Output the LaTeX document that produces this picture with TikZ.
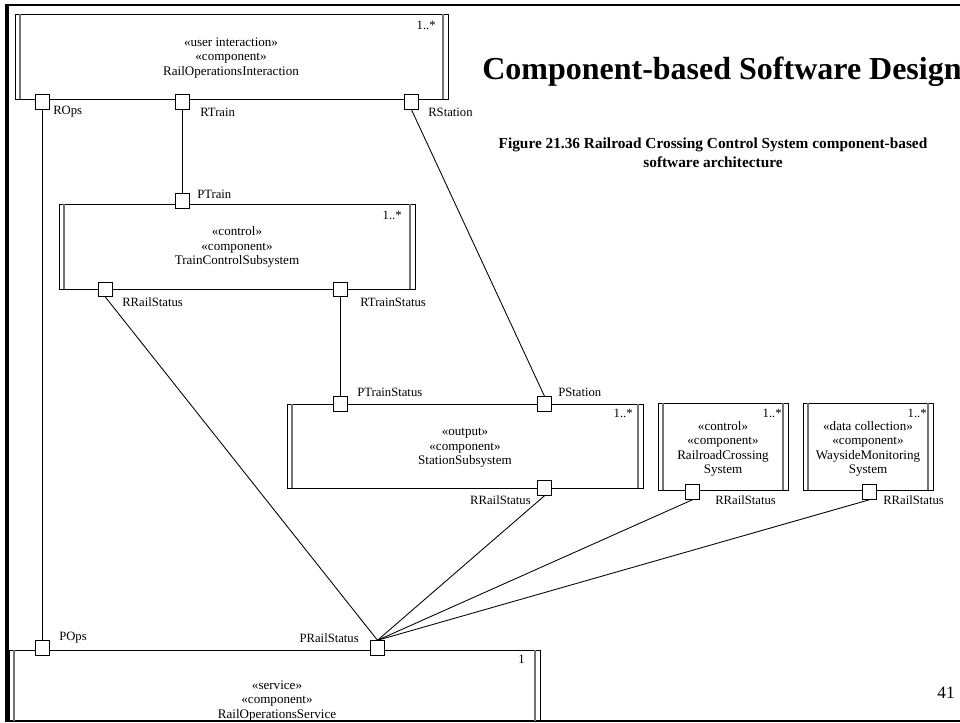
\documentclass[tikz,border=0pt]{standalone}
\usepackage{fontspec}
\setmainfont{Liberation Serif}
\usetikzlibrary{fit}
\begin{document}
\begin{tikzpicture}[x=0.75pt,y=-0.75pt,
  comp/.style={draw=black, line width=0.7pt, inner sep=0pt, outer sep=0pt},
  bar/.style={draw=black!55, line width=1.2pt},
  port/.style={draw=black, fill=white, line width=0.6pt, minimum size=11pt, inner sep=0pt},
  wire/.style={draw=black, line width=0.65pt},
  stereo/.style={align=center, inner sep=0pt, font=\fontsize{9.8}{10.8}\selectfont},
  mult/.style={anchor=east, inner sep=0pt, font=\fontsize{9.5}{11}\selectfont},
  lbl/.style={inner sep=0pt, font=\fontsize{9.5}{11}\selectfont},
]
\useasboundingbox (0,0) rectangle (960,723);

% component box with the double side bars
\newcommand\compbox[3]{%
  \node[comp, fit={#2 #3}] (#1) {};
  \draw[bar] ([xshift=3.9pt]#1.north west) -- ([xshift=3.9pt]#1.south west);
  \draw[bar] ([xshift=-3.9pt]#1.north east) -- ([xshift=-3.9pt]#1.south east);
}

% slide frame
\draw[line width=2pt] (5,5) -- (960,5);
\draw[line width=2.4pt] (7,4) -- (7,722);
\draw[line width=1.6pt] (5,721) -- (960,721);

% components
\compbox{roi}{(15,14)}{(448,99)}
\compbox{tcs}{(59,204)}{(415,289)}
\compbox{sts}{(287,404)}{(643,488)}
\compbox{rcs}{(658,403)}{(788,490)}
\compbox{wms}{(803,403)}{(933,490)}
\compbox{ros}{(9,650)}{(540,721)}

\node[stereo] (roiT) at (231,58) {«user interaction»\\«component»\\RailOperationsInteraction};
\node[stereo] (tcsT) at (237,247) {«control»\\«component»\\TrainControlSubsystem};
\node[stereo] (stsT) at (465,448) {«output»\\«component»\\StationSubsystem};
\node[stereo] (rcsT) at (723,449) {«control»\\«component»\\RailroadCrossing\\System};
\node[stereo] (wmsT) at (868,449) {«data collection»\\«component»\\WaysideMonitoring\\System};
\node[stereo] (rosT) at (277,701) {«service»\\«component»\\RailOperationsService};

\node[mult] (roiM) at (436,25) {1..*};
\node[mult] (tcsM) at (402,215) {1..*};
\node[mult] (stsM) at (633,413) {1..*};
\node[mult] (rcsM) at (782,413) {1..*};
\node[mult] (wmsM) at (927,413) {1..*};
\node[mult] (rosM) at (525,659) {1};

% ports
\node[port] (rops) at (42.5,102) {};
\node[port] (rtrain) at (182.5,102) {};
\node[port] (rstation) at (411.5,102) {};
\node[port] (ptrain) at (182.5,201) {};
\node[port] (rrail2) at (105.5,289.5) {};
\node[port] (rtstat) at (340.5,289.5) {};
\node[port] (ptstat) at (340.5,404) {};
\node[port] (pstation) at (544.5,404) {};
\node[port] (rrail3) at (544.5,488) {};
\node[port] (rrail4) at (692.5,492) {};
\node[port] (rrail5) at (869.5,492) {};
\node[port] (pops) at (42.5,648) {};
\node[port] (prail) at (377.5,648) {};

% port labels
\node[lbl, anchor=west] (ropsL) at (53,112) {ROps};
\node[lbl, anchor=west] (rtrainL) at (200,112) {RTrain};
\node[lbl, anchor=west] (rstationL) at (428,112) {RStation};
\node[lbl, anchor=west] (ptrainL) at (197,194) {PTrain};
\node[lbl, anchor=west] (rrail2L) at (122,302) {RRailStatus};
\node[lbl, anchor=west] (rtstatL) at (360,302) {RTrainStatus};
\node[lbl, anchor=west] (ptstatL) at (357,392) {PTrainStatus};
\node[lbl, anchor=west] (pstationL) at (558,392) {PStation};
\node[lbl, anchor=east] (rrail3L) at (531,500) {RRailStatus};
\node[lbl, anchor=west] (rrail4L) at (715,500) {RRailStatus};
\node[lbl, anchor=west] (rrail5L) at (883,500) {RRailStatus};
\node[lbl, anchor=west] (popsL) at (59,638) {POps};
\node[lbl, anchor=east] (prailL) at (359,638) {PRailStatus};

% connectors
\draw[wire] (rops.south) -- (pops.north);
\draw[wire] (rtrain.south) -- (ptrain.north);
\draw[wire] (rstation.south) -- (pstation.north);
\draw[wire] (rtstat.south) -- (ptstat.north);
\draw[wire] (rrail2.south) -- (prail.north);
\draw[wire] (rrail3.south) -- (prail.north);
\draw[wire] (rrail4.south) -- (prail.north);
\draw[wire] (rrail5.south) -- (prail.north);

% headings
\node[anchor=base west, inner sep=0pt, font=\fontsize{24}{28}\selectfont\bfseries] (title) at (482,80) {Component-based Software Design};
\node[align=center, inner sep=0pt, font=\fontsize{11.5}{14.2}\selectfont\bfseries] (caption) at (713,153) {Figure 21.36 Railroad Crossing Control System component-based\\software architecture};
\node[inner sep=0pt, font=\fontsize{13}{15}\selectfont] (pagenum) at (946,693) {41};
\end{tikzpicture}
\end{document}
